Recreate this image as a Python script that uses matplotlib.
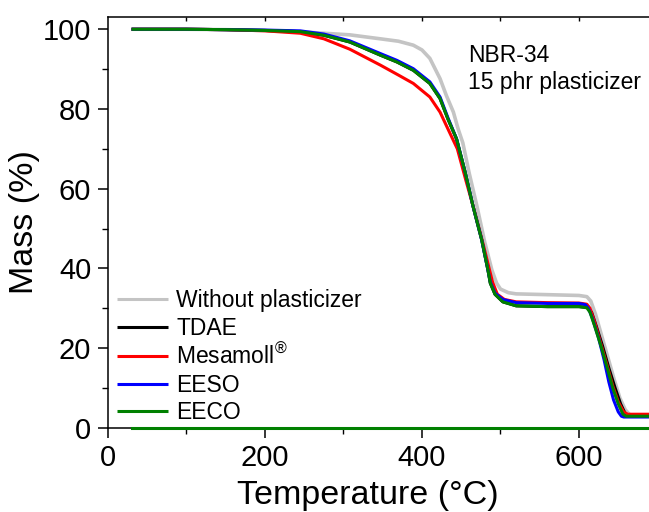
import matplotlib
matplotlib.use("Agg")
import matplotlib.pyplot as plt
from matplotlib.ticker import MultipleLocator

plt.rcParams['font.family'] = ['Liberation Sans', 'DejaVu Sans']
plt.rcParams['mathtext.fontset'] = 'custom'
plt.rcParams['mathtext.rm'] = 'Liberation Sans'

# ---- data ----
t_none = [30, 100, 150, 200, 250, 308, 347, 370, 389, 400, 410, 423, 431, 440, 446, 452, 460, 470, 480,
          489, 495, 500, 510, 520, 560, 600, 610, 615, 621, 629, 637, 645, 652, 659, 665, 668, 700]
m_none = [100, 100, 99.9, 99.7, 99.3, 98.6, 97.6, 97.0, 96.0, 94.8, 92.7, 87.6, 83.4, 79.2, 75.0, 71.5,
          64.0, 55.6, 46.5, 39.6, 36.3, 34.8, 33.9, 33.6, 33.4, 33.2, 32.9, 31.8, 28.5, 23.0, 17.5, 12.0,
          7.5, 4.5, 3.2, 3.0, 3.0]

t_tdae = [30, 100, 150, 200, 245, 275, 308, 347, 368, 389, 410, 423, 433, 444, 455, 465, 476, 484, 487,
          493, 503, 520, 560, 600, 611, 616, 622, 630, 638, 646, 653, 659, 664, 700]
m_tdae = [100, 100, 99.9, 99.7, 99.4, 98.5, 96.8, 93.5, 91.8, 89.7, 86.4, 82.6, 77.5, 72.5, 64.1, 55.6,
          47.2, 39.6, 36.3, 33.5, 31.6, 30.6, 30.4, 30.4, 30.2, 29.0, 25.5, 20.5, 15.0, 10.0, 6.0, 3.5,
          2.9, 2.9]

t_mesa = [30, 100, 150, 200, 245, 275, 308, 347, 370, 389, 410, 423, 433, 445, 456, 466, 478, 486, 490,
          496, 505, 520, 560, 600, 610, 614, 620, 628, 636, 643, 650, 657, 662, 700]
m_mesa = [100, 100, 99.9, 99.6, 99.0, 97.6, 95.0, 91.0, 88.5, 86.4, 83.0, 79.2, 75.0, 70.0, 62.0, 55.0,
          46.0, 39.6, 36.5, 33.5, 32.2, 31.6, 31.4, 31.3, 31.0, 30.0, 26.5, 21.0, 15.5, 10.5, 6.5, 4.0,
          3.4, 3.4]

t_eeso = [30, 100, 150, 200, 245, 275, 308, 347, 368, 389, 410, 423, 433, 444, 455, 465, 476, 484, 487,
          493, 503, 520, 560, 600, 608, 612, 617, 625, 632, 638, 644, 650, 654, 657, 700]
m_eeso = [100, 100, 99.9, 99.8, 99.6, 98.8, 97.1, 93.9, 92.2, 90.1, 86.8, 83.0, 77.8, 72.5, 64.1, 55.6,
          47.2, 39.6, 36.6, 33.8, 32.2, 31.4, 31.2, 31.2, 30.9, 30.0, 27.5, 22.5, 17.0, 11.5, 7.0, 4.0,
          2.9, 2.7, 2.7]

t_eeco = [30, 100, 150, 200, 245, 275, 308, 347, 368, 389, 410, 423, 433, 444, 455, 465, 476, 484, 487,
          493, 503, 520, 560, 600, 610, 614, 620, 628, 636, 643, 650, 656, 660, 700]
m_eeco = [100, 100, 99.9, 99.7, 99.4, 98.5, 96.8, 93.5, 91.8, 89.7, 86.4, 82.6, 77.5, 72.5, 64.1, 55.6,
          47.2, 39.6, 36.3, 33.5, 31.6, 30.6, 30.4, 30.4, 30.1, 29.0, 25.5, 20.5, 15.0, 10.0, 6.0, 3.4,
          2.9, 2.9]

t_base = [30, 700]
m_base = [0, 0]

labels = ["Without plasticizer", "TDAE", r"Mesamoll$^{\circledR}$", "EESO", "EECO"]
colors = ["#c4c4c4", "#000000", "#ff0000", "#0000ff", "#008000"]
widths = [2.6, 2.2, 2.2, 2.2, 2.2]
xticks = [0, 200, 400, 600]
yticks = [0, 20, 40, 60, 80, 100]

# ---- figure ----
fig = plt.figure(figsize=(6.49, 5.12), dpi=100)
ax = fig.add_axes([0.1664, 0.1645, 0.8467, 0.8017])

series = [(t_none, m_none), (t_tdae, m_tdae), (t_mesa, m_mesa), (t_eeso, m_eeso), (t_eeco, m_eeco)]
for (t, m), lab, c, w in zip(series, labels, colors, widths):
    ax.plot(t, m, color=c, lw=w, label=lab, solid_capstyle='butt', solid_joinstyle='round')
ax.plot(t_base, m_base, color="#008000", lw=2.2, clip_on=False, zorder=5)

ax.set_xlim(0, 700)
ax.set_ylim(0, 103)
ax.set_xticks(xticks)
ax.set_yticks(yticks)
ax.xaxis.set_minor_locator(MultipleLocator(100))
ax.yaxis.set_minor_locator(MultipleLocator(10))
ax.tick_params(which='major', direction='out', length=7, width=1.1, labelsize=21, pad=5)
ax.tick_params(which='minor', direction='out', length=4, width=1.0)
ax.spines['right'].set_visible(False)
for s in ['left', 'bottom', 'top']:
    ax.spines[s].set_linewidth(1.1)

sec = ax.secondary_xaxis('top')
sec.set_xticks([100, 200, 300, 400, 500, 600])
sec.tick_params(direction='in', length=3, width=1.0, labeltop=False)
sec.spines['top'].set_visible(False)

ax.set_xlabel("Temperature (°C)", fontsize=24.5)
ax.xaxis.set_label_coords(0.472, -0.128)
ax.set_ylabel("Mass (%)", fontsize=24.5, labelpad=2)

ax.text(0.656, 0.935, "NBR-34\n15 phr plasticizer", transform=ax.transAxes, fontsize=16.5,
        va='top', ha='left', linespacing=1.25)

leg = ax.legend(loc='upper left', bbox_to_anchor=(0.0158, 0.338), frameon=False, fontsize=16.5,
                handlelength=2.25, handletextpad=0.35, labelspacing=0.2, borderpad=0, borderaxespad=0)
for h in leg.get_lines():
    h.set_linewidth(2.2)

fig.savefig("out.png", dpi=100)
